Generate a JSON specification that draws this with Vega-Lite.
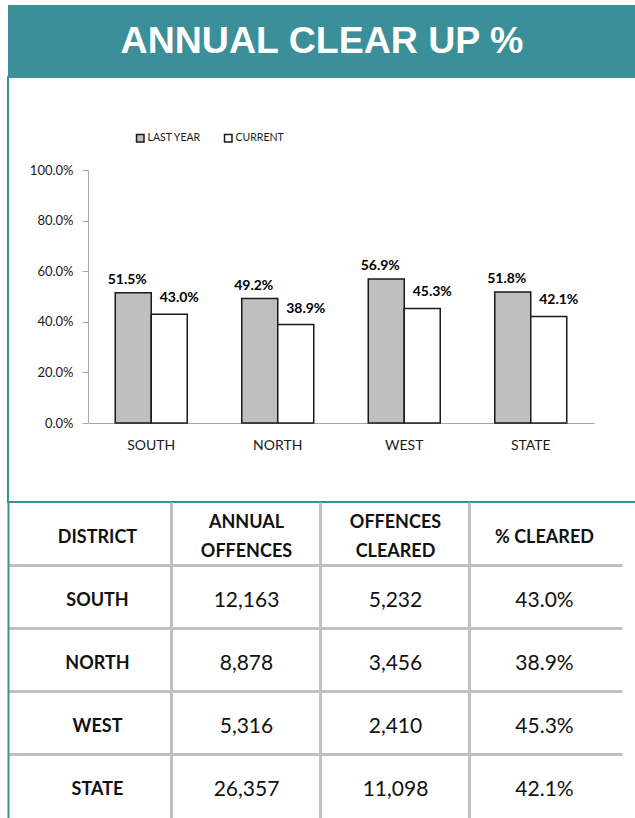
{
  "$schema": "https://vega.github.io/schema/vega-lite/v6.json",
  "padding": {"left": 7, "top": 5, "right": 0, "bottom": 0},
  "background": "white",
  "spacing": 0,
  "bounds": "flush",
  "config": {"font": "Lato", "view": {"stroke": null}},
  "resolve": {"scale": {"x": "independent", "y": "independent", "fill": "independent"}},
  "datasets": {
    "bars": [
      {"district": "SOUTH", "series": "LAST YEAR", "value": 0.515},
      {"district": "SOUTH", "series": "CURRENT", "value": 0.430},
      {"district": "NORTH", "series": "LAST YEAR", "value": 0.492},
      {"district": "NORTH", "series": "CURRENT", "value": 0.389},
      {"district": "WEST", "series": "LAST YEAR", "value": 0.569},
      {"district": "WEST", "series": "CURRENT", "value": 0.453},
      {"district": "STATE", "series": "LAST YEAR", "value": 0.518},
      {"district": "STATE", "series": "CURRENT", "value": 0.421}
    ],
    "table": [
      {"district": "SOUTH", "annual": 12163, "cleared": 5232, "pct": 0.430},
      {"district": "NORTH", "annual": 8878, "cleared": 3456, "pct": 0.389},
      {"district": "WEST", "annual": 5316, "cleared": 2410, "pct": 0.453},
      {"district": "STATE", "annual": 26357, "cleared": 11098, "pct": 0.421}
    ],
    "cols": [
      {"col": "DISTRICT", "header": "DISTRICT"},
      {"col": "ANNUAL OFFENCES", "header": "ANNUAL\nOFFENCES"},
      {"col": "OFFENCES CLEARED", "header": "OFFENCES\nCLEARED"},
      {"col": "% CLEARED", "header": "% CLEARED"}
    ]
  },
  "vconcat": [
    {
      "width": 628,
      "height": 72,
      "view": {"fill": "#3a8f99", "stroke": null},
      "data": {"values": [{"title": "ANNUAL CLEAR UP %"}]},
      "mark": {"type": "text", "font": "Liberation Sans", "fontWeight": "bold", "fontSize": 37.5, "fill": "#ffffff", "baseline": "alphabetic", "align": "center", "dy": 12, "dx": 0},
      "encoding": {"text": {"field": "title", "type": "nominal"}}
    },
    {
      "width": 628,
      "height": 425,
      "view": {"stroke": "#3a8f99", "strokeWidth": 2},
      "data": {"name": "bars"},
      "encoding": {
        "x": {
          "field": "district", "type": "nominal", "sort": ["SOUTH", "NORTH", "WEST", "STATE"],
          "scale": {"range": [80, 586], "paddingInner": 0.431, "paddingOuter": 0.2155},
          "axis": {"orient": "bottom", "offset": -79, "title": null, "labelAngle": 0, "ticks": false, "domainColor": "#a6a6a6", "domainWidth": 1, "labelPadding": 15, "labelFontSize": 14, "labelColor": "#1a1a1a", "labelFont": "Lato"}
        },
        "xOffset": {"field": "series", "type": "nominal", "sort": ["LAST YEAR", "CURRENT"], "scale": {"paddingInner": 0, "paddingOuter": 0}},
        "y": {
          "field": "value", "type": "quantitative",
          "scale": {"domain": [0, 1], "range": [346, 93], "nice": false},
          "axis": {"values": [0, 0.2, 0.4, 0.6, 0.8, 1], "format": ".1%", "offset": -80, "title": null, "grid": false, "domainColor": "#a6a6a6", "tickColor": "#a6a6a6", "tickSize": 6, "labelPadding": 9, "labelFontSize": 13, "labelColor": "#1a1a1a", "labelFont": "Lato"}
        }
      },
      "layer": [
        {
          "mark": {"type": "bar", "stroke": "#1a1a1a", "strokeWidth": 1.5},
          "encoding": {
            "fill": {
              "field": "series", "type": "nominal", "sort": ["LAST YEAR", "CURRENT"],
              "scale": {"domain": ["LAST YEAR", "CURRENT"], "range": ["#bfbfbf", "#ffffff"]},
              "legend": {"orient": "none", "legendX": 127, "legendY": 56, "direction": "horizontal", "title": null, "symbolType": "square", "symbolSize": 56, "symbolStrokeColor": "#1a1a1a", "symbolStrokeWidth": 1.5, "labelFontSize": 10.5, "labelOffset": 2, "columnPadding": 20, "labelColor": "#1a1a1a", "labelFont": "Lato"}
            }
          }
        },
        {
          "transform": [{"filter": "datum.series === 'LAST YEAR'"}],
          "mark": {"type": "text", "fontWeight": "bold", "fontSize": 14, "dx": -6, "dy": -9, "baseline": "alphabetic", "fill": "#000000"},
          "encoding": {"text": {"field": "value", "type": "quantitative", "format": ".1%"}}
        },
        {
          "transform": [{"filter": "datum.series === 'CURRENT'"}],
          "mark": {"type": "text", "fontWeight": "bold", "fontSize": 14, "dx": 10, "dy": -12, "baseline": "alphabetic", "fill": "#000000"},
          "encoding": {"text": {"field": "value", "type": "quantitative", "format": ".1%"}}
        }
      ]
    },
    {
      "width": 614,
      "height": 316,
      "view": {"stroke": null},
      "data": {"name": "table"},
      "encoding": {
        "y": {
          "field": "district", "type": "nominal",
          "scale": {"type": "band", "domain": ["HEADER", "SOUTH", "NORTH", "WEST", "STATE"], "paddingInner": 0, "paddingOuter": 0},
          "axis": {"orient": "left", "title": null, "labels": false, "ticks": false, "domain": true, "domainColor": "#3a8f99", "domainWidth": 2, "grid": true, "bandPosition": 0, "gridColor": "#c0c0c0", "gridWidth": 3, "gridOpacity": {"condition": {"test": "datum.value === 'HEADER'", "value": 0}, "value": 1}}
        }
      },
      "layer": [
        {
          "data": {"name": "cols"},
          "transform": [{"filter": "indexof(datum.header, '\\n') < 0"}],
          "mark": {"type": "text", "fontWeight": "bold", "fontSize": 18, "dy": 4, "fill": "#111111"},
          "encoding": {
            "x": {
              "field": "col", "type": "nominal",
              "scale": {"type": "band", "domain": ["DISTRICT", "ANNUAL OFFENCES", "OFFENCES CLEARED", "% CLEARED"], "paddingInner": 0, "paddingOuter": 0.0604, "align": 0.833},
              "axis": {"orient": "top", "title": null, "labels": false, "ticks": false, "domain": false, "grid": true, "bandPosition": 0, "gridColor": "#c0c0c0", "gridWidth": 3, "gridOpacity": {"condition": {"test": "datum.value === 'DISTRICT'", "value": 0}, "value": 1}}
            },
            "y": {"datum": "HEADER", "type": "nominal"},
            "text": {"field": "header", "type": "nominal"}
          }
        },
        {
          "data": {"name": "cols"},
          "transform": [{"filter": "indexof(datum.header, '\\n') >= 0"}],
          "mark": {"type": "text", "fontWeight": "bold", "fontSize": 18, "lineBreak": "\n", "lineHeight": 29, "dy": -11, "fill": "#111111"},
          "encoding": {
            "x": {"field": "col", "type": "nominal"},
            "y": {"datum": "HEADER", "type": "nominal"},
            "text": {"field": "header", "type": "nominal"}
          }
        },
        {
          "mark": {"type": "text", "fontWeight": "bold", "fontSize": 18, "dy": 4, "fill": "#111111"},
          "encoding": {
            "x": {"datum": "DISTRICT", "type": "nominal"},
            "text": {"field": "district", "type": "nominal"}
          }
        },
        {
          "mark": {"type": "text", "fontSize": 21, "dy": 4, "fill": "#111111"},
          "encoding": {
            "x": {"datum": "ANNUAL OFFENCES", "type": "nominal"},
            "text": {"field": "annual", "type": "quantitative", "format": ","}
          }
        },
        {
          "mark": {"type": "text", "fontSize": 21, "dy": 4, "fill": "#111111"},
          "encoding": {
            "x": {"datum": "OFFENCES CLEARED", "type": "nominal"},
            "text": {"field": "cleared", "type": "quantitative", "format": ","}
          }
        },
        {
          "mark": {"type": "text", "fontSize": 21, "dy": 4, "fill": "#111111"},
          "encoding": {
            "x": {"datum": "% CLEARED", "type": "nominal"},
            "text": {"field": "pct", "type": "quantitative", "format": ".1%"}
          }
        }
      ]
    }
  ]
}
